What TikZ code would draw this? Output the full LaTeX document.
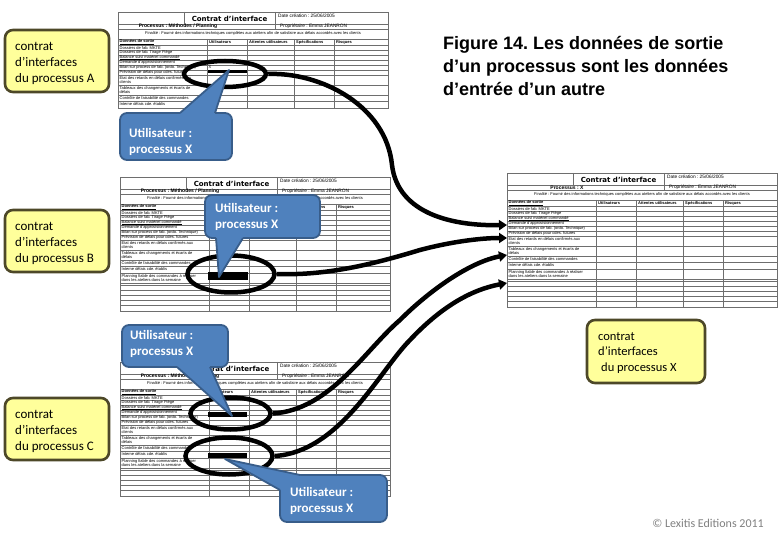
\documentclass[tikz,border=0pt]{standalone}
\usepackage{fontspec}
\setmainfont{Carlito}
\newfontfamily\arialf{Liberation Sans}
\newfontfamily\dvf{DejaVu Sans}
\usetikzlibrary{arrows.meta,shapes.geometric}
\frenchspacing

\definecolor{callfill}{RGB}{79,129,189}
\definecolor{calldraw}{RGB}{56,93,138}
\definecolor{yelfill}{RGB}{255,255,155}
\definecolor{yeldraw}{RGB}{77,72,40}
\definecolor{gridc}{RGB}{110,110,110}
\definecolor{copyc}{RGB}{128,128,128}

\newcommand{\ctab}[2]{%
  \def\tabH{96}%
  \ifnum#2=1 \def\tabH{134}\fi
  \draw[grid] (0,0) rectangle (270,\tabH);
  \draw[grid] (0,12) -- (270,12) (0,17) -- (270,17) (0,27) -- (270,27) (0,33) -- (270,33);
  \draw[grid] (66,0) -- (66,12) (157,0) -- (157,17);
  \foreach \yy in {38,43,48,53,58,63,73,83,89} {\draw[grid] (0,\yy) -- (270,\yy);}
  \ifnum#2=1
    \foreach \yy in {96,106,108,113,118,123,128} {\draw[grid] (0,\yy) -- (270,\yy);}
  \fi
  \foreach \xx in {89,129,176,216} {\draw[grid] (\xx,27) -- (\xx,\tabH);}
  \node[font=\dvf\bfseries\fontsize{7}{8}\selectfont, inner sep=0pt] (title) at (111.5,6.5) {Contrat d’interface};
  \node[tt, font=\arialf\fontsize{4.8}{5}\selectfont] (date) at (160,4.2) {Date création : 25/06/2005};
  \node[font=\arialf\bfseries\fontsize{5}{6}\selectfont, inner sep=0pt] (proc) at (60,14.6) {#1};
  \node[tt, font=\arialf\fontsize{4.8}{5}\selectfont] (prop) at (162,14.6) {Propriétaire : Emma JEANRON};
  \node[tt, anchor=center] (fin) at (135,21.5) {Finalité : Fournir des informations techniques complètes aux ateliers afin de satisfaire aux délais accordés avec les clients};
  \node[th] (h1) at (1.5,30.5) {\underline{Données de sortie}};
  \node[th] (h2) at (91,30.5) {Utilisateurs};
  \node[th] (h3) at (131,30.5) {Attentes utilisateurs};
  \node[th] (h4) at (178,30.5) {Spécifications};
  \node[th] (h5) at (218,30.5) {Risques};
  \node[tt] (r1) at (1.5,35.6) {Dossiers de fab. MKTE};
  \node[tt] (r2) at (1.5,40.6) {Dossiers de fab. Tirage Piège};
  \node[tt] (r3) at (1.5,45.6) {\underline{Balance suivi matériel commandé}};
  \node[tt] (r4) at (1.5,50.6) {Demande d’approvisionnement};
  \node[tt] (r5) at (1.5,55.6) {Bilan sur process de fab. (ordo. Technique)};
  \node[tt] (r6) at (1.5,60.6) {Prévision de délais pour cdes. futures};
  \node[tt] (r7) at (1.5,68) {Etat des retards en délais confirmés aux\\clients};
  \node[tt] (r8) at (1.5,78) {Tableaux des changements et écarts de\\délais};
  \node[tt] (r9) at (1.5,86) {Contrôle de faisabilité des commandes};
  \node[tt] (r10) at (1.5,92.5) {Interne délais cde. établis};
  \ifnum#2=1
    \node[tt] (r11) at (1.5,101) {Planning fiable des commandes à réaliser\\dans les ateliers dans la semaine};
  \fi
}

\begin{document}
\begin{tikzpicture}[x=1pt,y=-1pt,
  grid/.style={draw=gridc, line width=0.4pt},
  tt/.style={font=\arialf\fontsize{4}{4.6}\selectfont, inner sep=0pt, anchor=west, align=left},
  th/.style={font=\arialf\bfseries\fontsize{4}{4.6}\selectfont, inner sep=0pt, anchor=west},
  ybox/.style={draw=yeldraw, fill=yelfill, line width=2.6pt, rounded corners=8pt, inner sep=0pt},
  ytext/.style={font=\fontsize{13}{16}\selectfont, align=left, inner sep=0pt, anchor=west},
  calltext/.style={font=\bfseries\fontsize{13}{16}\selectfont, text=white, align=left, inner sep=0pt, anchor=west},
  cbox/.style={draw=calldraw, fill=callfill, line width=1.8pt, rounded corners=7pt},
  cside/.style={draw=calldraw, line width=1.8pt, line join=round},
  ell/.style={ellipse, draw=black, line width=4.5pt, inner sep=0pt},
  bar/.style={fill=black},
  conn/.style={draw=black, line width=4.5pt, -{Triangle[length=8pt,width=10pt]}},
  titlef/.style={font=\arialf\bfseries\fontsize{18}{22}\selectfont, inner sep=0pt, anchor=base west}]
\useasboundingbox[fill=white] (0,0) rectangle (780,540);

% ---- tables
\begin{scope}[shift={(118,12)}, name prefix=A-]
  \ctab{Processus : Méthodes / Planning}{0}
\end{scope}
\begin{scope}[shift={(120,177)}, name prefix=B-]
  \ctab{Processus : Méthodes / Planning}{1}
\end{scope}
\begin{scope}[shift={(120,362)}, name prefix=C-]
  \ctab{Processus : Méthodes / Planning}{1}
\end{scope}
\begin{scope}[shift={(507,173)}, name prefix=X-]
  \ctab{Processus : X}{1}
\end{scope}

% ---- marks in the tables
\node[font=\arialf\fontsize{4}{4.6}\selectfont, inner sep=0pt] (xmark) at (210,67) {X};
\fill[bar] (208,70) rectangle (247,73.5);
\fill[bar] (208,272) rectangle (248,280);
\fill[bar] (208,412) rectangle (247,417);
\fill[bar] (208,453) rectangle (247,457.5);

% ---- ellipses
\node[ell, minimum width=82pt, minimum height=26pt] (eA) at (225,74) {};
\node[ell, minimum width=87pt, minimum height=37pt] (eB) at (231,274) {};
\node[ell, minimum width=80pt, minimum height=32pt] (eC1) at (230.5,413.5) {};
\node[ell, minimum width=87pt, minimum height=37pt] (eC2) at (229,456) {};

% ---- inputs of process X
\coordinate (inA) at (507,225);
\coordinate (inB) at (507,238);
\coordinate (inC1) at (507,255);
\coordinate (inC2) at (507,283);

% ---- connectors
\draw[conn] (eA.east) .. controls (320,72) and (386,105) .. (392,165) .. controls (398,215) and (455,226) .. (inA);
\draw[conn] (eB.east) .. controls (330,276) and (380,262) .. (420,250) .. controls (450,242) and (480,238) .. (inB);
\draw[conn] (eC1.east) .. controls (330,410) and (365,350) .. (400,320) .. controls (430,290) and (470,262) .. (inC1);
\draw[conn] (eC2.east) .. controls (340,452) and (380,370) .. (410,340) .. controls (440,308) and (470,290) .. (inC2);

% ---- callouts
% A
\draw[cbox] (120,113) rectangle (232,160);
\fill[callfill] (180,113) -- (229,70) -- (215,113) -- (215,117) -- (180,117) -- cycle;
\draw[cside] (180,113) -- (229,70) -- (215,113);
\node[calltext] (uA) at (129,141.5) {Utilisateur :\\processus X};
% B
\draw[cbox] (205,195) rectangle (320,238);
\fill[callfill] (216,238) -- (219,277) -- (243,238) -- (243,234) -- (216,234) -- cycle;
\draw[cside] (216,238) -- (219,277) -- (243,238);
\node[calltext] (uB) at (215,216.5) {Utilisateur :\\processus X};
% C1
\draw[cbox] (122,325) rectangle (228,367);
\fill[callfill] (177,367) -- (232,416) -- (210,367) -- (210,363) -- (177,363) -- cycle;
\draw[cside] (177,367) -- (232,416) -- (210,367);
\node[calltext] (uC1) at (130,344) {Utilisateur :\\processus X};
% C2
\draw[cbox] (280,475) rectangle (387,522);
\fill[callfill] (300,475) -- (225,459) -- (280,490) -- (284,490) -- (284,479) -- (300,479) -- cycle;
\draw[cside] (300,475) -- (225,459) -- (280,490);
\node[calltext] (uC2) at (290,501) {Utilisateur :\\processus X};

% ---- yellow boxes
\node[ybox, minimum width=104pt, minimum height=62pt] (yA) at (57,61) {};
\node[ytext] (yAt) at (15,63) {contrat\\d’interfaces\\du processus A};
\node[ybox, minimum width=104pt, minimum height=62pt] (yB) at (57,241) {};
\node[ytext] (yBt) at (15,243) {contrat\\d’interfaces\\du processus B};
\node[ybox, minimum width=104pt, minimum height=62pt] (yC) at (57,429) {};
\node[ytext] (yCt) at (15,431) {contrat\\d’interfaces\\du processus C};
\node[ybox, minimum width=118pt, minimum height=63pt] (yX) at (646,351.5) {};
\node[ytext, font=\fontsize{12.5}{15.5}\selectfont] (yXt) at (598,353) {contrat\\d’interfaces\\\hspace*{3pt}du processus X};

% ---- title
\node[titlef] (fig1) at (443,50) {Figure 14. Les données de sortie};
\node[titlef] (fig2) at (443,73) {d’un processus sont les données};
\node[titlef] (fig3) at (443,96) {d’entrée d’un autre};

% ---- copyright
\node[font=\fontsize{12}{14}\selectfont, text=copyc, inner sep=0pt, anchor=base east] (copy) at (764,527) {© Lexitis Editions 2011};
\end{tikzpicture}
\end{document}
